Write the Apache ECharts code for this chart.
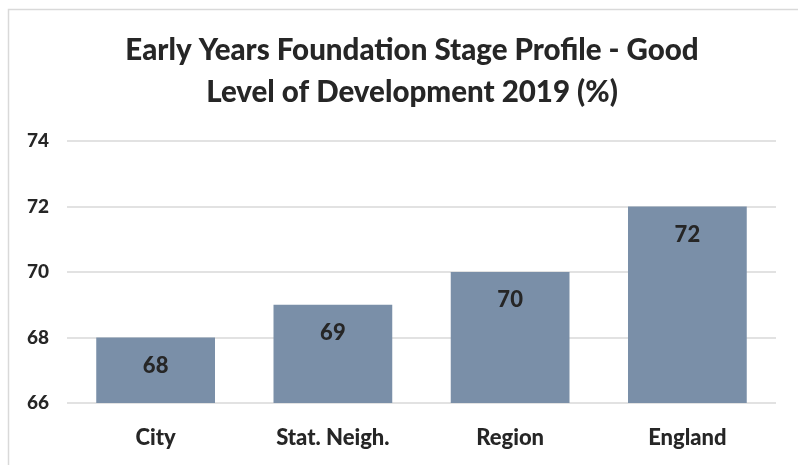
<!DOCTYPE html>
<html>
<head>
<meta charset="utf-8">
<script src="https://cdn.jsdelivr.net/npm/echarts@6/dist/echarts.min.js"></script>
<style>
  html, body { margin: 0; padding: 0; background: #fff; }
  #chart { width: 798px; height: 465px; }
</style>
</head>
<body>
<div id="chart"></div>
<script>
// data
const categories = ['City', 'Stat. Neigh.', 'Region', 'England'];
const goodLevel = [68, 69, 70, 72];
const yTicks = [66, 68, 70, 72, 74];

const font = 'Lato, "Open Sans", sans-serif';
const textColor = '#262626';
const weight = 900;

const chart = echarts.init(document.getElementById('chart'));
chart.setOption({
    animation: false,
    title: {
        text: 'Early Years Foundation Stage Profile - Good\nLevel of Development 2019 (%)',
        left: 407,
        top: 24,
        textAlign: 'center',
        textStyle: {
            fontFamily: font,
            fontSize: 29.5,
            fontWeight: weight,
            color: textColor,
            lineHeight: 42
        }
    },
    graphic: [{
        type: 'rect',
        shape: { x: 8.5, y: 9.5, width: 820, height: 480 },
        style: { fill: 'none', stroke: '#d9d9d9', lineWidth: 1.5 }
    }],
    grid: {
        left: 67,
        right: 22,
        top: 141,
        bottom: 62
    },
    xAxis: {
        type: 'category',
        data: categories,
        axisLine: { show: false },
        axisTick: { show: false },
        axisLabel: {
            margin: 24,
            fontFamily: font,
            fontSize: 22,
            fontWeight: weight,
            color: textColor
        }
    },
    yAxis: {
        type: 'value',
        min: yTicks[0],
        max: yTicks[yTicks.length - 1],
        interval: 2,
        axisLine: { show: false },
        axisTick: { show: false },
        splitLine: { lineStyle: { color: '#d9d9d9', width: 1.5 } },
        axisLabel: {
            align: 'left',
            margin: 40,
            fontFamily: font,
            fontSize: 19,
            fontWeight: weight,
            color: textColor
        }
    },
    series: [{
        type: 'bar',
        data: goodLevel,
        barCategoryGap: '33%',
        itemStyle: { color: '#7a8fa8' },
        label: {
            show: true,
            position: 'insideTop',
            distance: 17,
            fontFamily: font,
            fontSize: 22,
            fontWeight: weight,
            color: textColor
        }
    }]
});
</script>
</body>
</html>
